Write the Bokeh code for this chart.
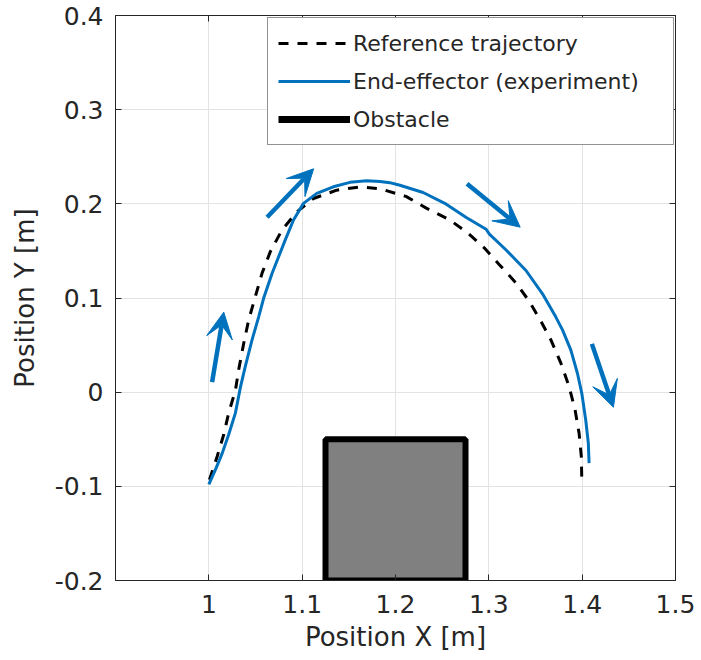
from bokeh.plotting import figure
from bokeh.models import (ColumnDataSource, Range1d, FixedTicker, LinearAxis, Legend, LegendItem,
                          Arrow, VeeHead, CustomJSTickFormatter)
from bokeh.embed import file_html
from bokeh.resources import INLINE

# ---- data ----
ref_x = [1.0007, 1.009, 1.016, 1.0213, 1.0285, 1.032, 1.0374, 1.0427, 1.0498, 1.057, 1.0658,
         1.0783, 1.0943, 1.1121, 1.137, 1.1619, 1.1834, 1.2117, 1.233, 1.2579, 1.2775, 1.2953,
         1.3113, 1.3291, 1.3433, 1.3558, 1.3665, 1.3772, 1.386, 1.3924, 1.3967, 1.3991, 1.3996]
ref_y = [-0.093, -0.068, -0.045, -0.022, 0.002, 0.024, 0.052, 0.0767, 0.1014, 0.1262, 0.149,
         0.1721, 0.1915, 0.2057, 0.2145, 0.218, 0.216, 0.2077, 0.1954, 0.1831, 0.169, 0.153,
         0.1354, 0.116, 0.0965, 0.0754, 0.0555, 0.0308, 0.0059, -0.0188, -0.0436, -0.0683, -0.093]

exp_x = [1.000, 1.0072, 1.0143, 1.0213, 1.0285, 1.0338, 1.0392, 1.0463, 1.0534, 1.0587, 1.0677,
         1.082, 1.0907, 1.1014, 1.1157, 1.1334, 1.1512, 1.169, 1.1834, 1.1939, 1.2047, 1.2296,
         1.2544, 1.2758, 1.2971, 1.3006, 1.3185, 1.3398, 1.3575, 1.3718, 1.3789, 1.3878, 1.3949,
         1.3996, 1.4038, 1.4066, 1.4074]
exp_y = [-0.098, -0.082, -0.065, -0.045, -0.022, 0.005, 0.028, 0.0555, 0.080, 0.0997, 0.126,
         0.162, 0.1828, 0.2005, 0.2111, 0.2181, 0.2228, 0.2245, 0.2236, 0.2225, 0.2197, 0.212,
         0.1996, 0.1855, 0.173, 0.1679, 0.151, 0.1292, 0.1044, 0.0797, 0.0661, 0.0449, 0.0201,
         -0.0011, -0.0294, -0.0542, -0.0754]

obstacle_x = [1.125, 1.275]
obstacle_y = [-0.2, -0.05]

arrow_x0 = [1.0035, 1.0624, 1.2766, 1.4104]
arrow_y0 = [0.0106, 0.1858, 0.2213, 0.0513]
arrow_x1 = [1.0160, 1.1123, 1.3336, 1.4335]
arrow_y1 = [0.0850, 0.2372, 0.1752, -0.0160]

x_ticks = [1.0, 1.1, 1.2, 1.3, 1.4, 1.5]
y_ticks = [-0.2, -0.1, 0.0, 0.1, 0.2, 0.3, 0.4]
x_label = "Position X [m]"
y_label = "Position Y [m]"
legend_labels = ["Reference trajectory", "End-effector (experiment)", "Obstacle"]

# ---- style ----
BLUE = "#0072BD"
TXT = "#262626"
FONT = "DejaVu Sans"

p = figure(width=701, height=660, output_backend="svg", toolbar_location=None,
           x_range=Range1d(0.9, 1.5), y_range=Range1d(-0.2, 0.4),
           min_border_left=115, min_border_right=26, min_border_top=15, min_border_bottom=80,
           background_fill_color="white", border_fill_color="white")
p.outline_line_color = TXT
p.outline_line_width = 1

for ax, ticks in ((p.xaxis[0], x_ticks), (p.yaxis[0], y_ticks)):
    ax.ticker = FixedTicker(ticks=ticks)
    ax.major_tick_in = 6
    ax.major_tick_out = 0
    ax.minor_tick_line_color = None
    ax.axis_line_color = TXT
    ax.major_tick_line_color = TXT
    ax.major_label_text_font = FONT
    ax.major_label_text_font_size = "25px"
    ax.major_label_text_color = TXT
    ax.axis_label_text_font = FONT
    ax.axis_label_text_font_size = "26px"
    ax.axis_label_text_font_style = "normal"
    ax.axis_label_text_color = TXT

p.xaxis[0].axis_label = x_label
p.yaxis[0].axis_label = y_label
p.xaxis[0].major_label_standoff = 14
p.yaxis[0].major_label_standoff = 12
p.xaxis[0].axis_label_standoff = 6
p.yaxis[0].axis_label_standoff = 12
p.yaxis[0].formatter = CustomJSTickFormatter(code="return (Math.abs(tick) < 1e-9) ? '0' : tick.toFixed(1);")
p.xaxis[0].formatter = CustomJSTickFormatter(code="return (Math.abs(tick - 1) < 1e-9) ? '1' : tick.toFixed(1);")

for loc, ticks in (("above", x_ticks), ("right", y_ticks)):
    ax = LinearAxis(ticker=FixedTicker(ticks=ticks),
                    formatter=CustomJSTickFormatter(code="return '';"),
                    major_tick_in=6, major_tick_out=0, minor_tick_line_color=None,
                    axis_line_color=TXT, major_tick_line_color=TXT,
                    major_label_text_font_size="0px", major_label_standoff=0)
    p.add_layout(ax, loc)

p.xgrid.ticker = FixedTicker(ticks=x_ticks)
p.ygrid.ticker = FixedTicker(ticks=y_ticks)
p.grid.grid_line_color = "#e3e3e3"
p.grid.grid_line_width = 1

# obstacle
p.quad(left=[obstacle_x[0]], right=[obstacle_x[1]], bottom=[obstacle_y[0]], top=[obstacle_y[1]],
       fill_color="#808080", line_color="black", line_width=6)

# trajectories
r_ref = p.line(ref_x, ref_y, line_color="black", line_width=3, line_dash="10 9")
r_exp = p.line(exp_x, exp_y, line_color=BLUE, line_width=3)
# legend-only proxy for the obstacle (placed outside the visible range)
r_obs_leg = p.line(x=[0.0, 0.01], y=[5.0, 5.0], line_color="black", line_width=7)

# arrows
arr_src = ColumnDataSource(dict(x0=arrow_x0, y0=arrow_y0, x1=arrow_x1, y1=arrow_y1))
p.add_layout(Arrow(end=VeeHead(size=26, fill_color=BLUE, line_color=BLUE, line_width=1),
                   x_start="x0", y_start="y0", x_end="x1", y_end="y1", source=arr_src,
                   line_color=BLUE, line_width=4.5))

legend = Legend(items=[LegendItem(label=legend_labels[0], renderers=[r_ref]),
                       LegendItem(label=legend_labels[1], renderers=[r_exp]),
                       LegendItem(label=legend_labels[2], renderers=[r_obs_leg])],
                location=(152, 435))
legend.label_text_font = FONT
legend.label_text_font_size = "22px"
legend.label_text_color = TXT
legend.glyph_width = 72
legend.glyph_height = 30
legend.label_height = 30
legend.label_width = 310
legend.label_standoff = 3
legend.spacing = 8
legend.padding = 10
legend.margin = 0
legend.border_line_color = TXT
legend.border_line_width = 1
legend.background_fill_color = "white"
legend.background_fill_alpha = 1
p.add_layout(legend, "center")

open("out.html", "w").write(file_html(p, INLINE))
